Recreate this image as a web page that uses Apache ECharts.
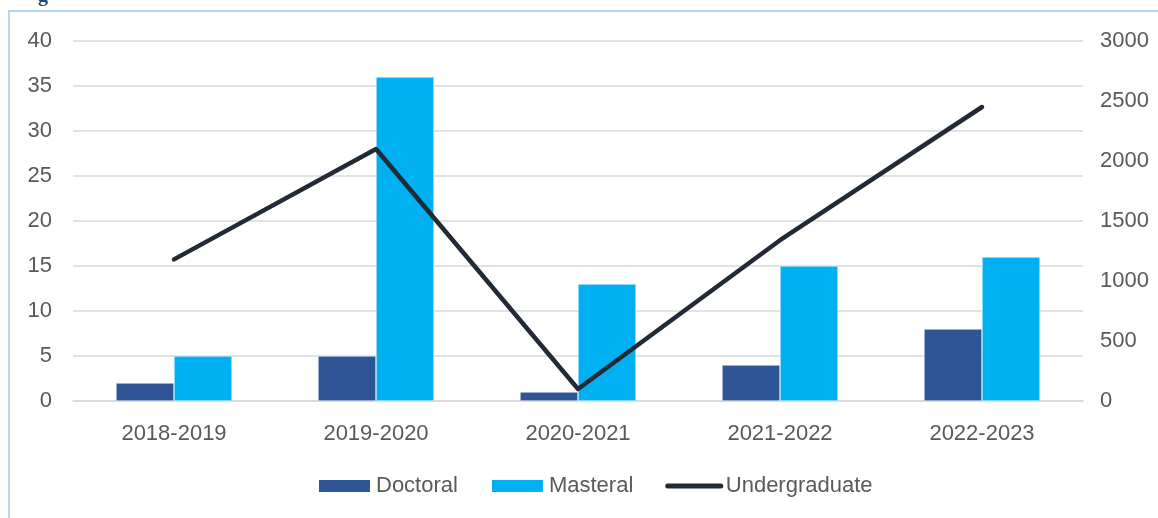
<!DOCTYPE html>
<html>
<head>
<meta charset="utf-8">
<script src="https://cdn.jsdelivr.net/npm/echarts@6/dist/echarts.min.js"></script>
<style>html,body{margin:0;padding:0;background:#fff;}#c{width:1158px;height:518px;}</style>
</head>
<body>
<div id="c"></div>
<script>
const categories = ['2018-2019', '2019-2020', '2020-2021', '2021-2022', '2022-2023'];
const doctoral = [2, 5, 1, 4, 8];
const masteral = [5, 36, 13, 15, 16];
const undergraduate = [1180, 2100, 100, 1340, 2450];
const leftTicks = {min: 0, max: 40, interval: 5};
const rightTicks = {min: 0, max: 3000, interval: 500};

const font = '"Liberation Sans", Arial, sans-serif';
const chart = echarts.init(document.getElementById('c'), null, {renderer: 'canvas'});
chart.setOption({
  animation: false,
  backgroundColor: '#fff',
  graphic: [
    {type: 'rect', shape: {x: 9, y: 11, width: 1200, height: 600}, style: {fill: 'none', stroke: '#B4D3F0', lineWidth: 2}, silent: true},
    {type: 'text', x: 38, y: -14, style: {text: 'g', font: 'bold 20px "Liberation Serif", serif', fill: '#1F4E79'}, silent: true}
  ],
  grid: {left: 73, right: 75, top: 41, bottom: 117},
  legend: {
    top: 470, left: 312,
    itemWidth: 53, itemHeight: 14, itemGap: 32,
    textStyle: {color: '#595959', fontSize: 22, fontFamily: font},
    data: [
      {name: 'Doctoral', icon: 'rect'},
      {name: 'Masteral', icon: 'rect'},
      {name: 'Undergraduate', itemStyle: {opacity: 0}, lineStyle: {width: 5, cap: 'round', color: '#222A35'}}
    ]
  },
  xAxis: {
    type: 'category', data: categories,
    axisLine: {lineStyle: {color: '#D9D9D9', width: 1.5}},
    axisTick: {show: false},
    axisLabel: {color: '#595959', fontSize: 22, fontFamily: font, margin: 22}
  },
  yAxis: [
    {type: 'value', min: leftTicks.min, max: leftTicks.max, interval: leftTicks.interval,
      axisLabel: {color: '#595959', fontSize: 22, fontFamily: font, margin: 21},
      splitLine: {lineStyle: {color: '#D9D9D9', width: 1.5}},
      axisLine: {show: false}, axisTick: {show: false}},
    {type: 'value', min: rightTicks.min, max: rightTicks.max, interval: rightTicks.interval,
      position: 'right',
      axisLabel: {color: '#595959', fontSize: 22, fontFamily: font, margin: 17, formatter: v => String(v)},
      splitLine: {show: false}, axisLine: {show: false}, axisTick: {show: false}}
  ],
  series: [
    {name: 'Doctoral', type: 'bar', data: doctoral, barWidth: 58, barGap: '0%',
      itemStyle: {color: '#2F5597', borderColor: '#fff', borderWidth: 0.5}},
    {name: 'Masteral', type: 'bar', data: masteral, barWidth: 58, barGap: '0%',
      itemStyle: {color: '#00B0F0', borderColor: '#fff', borderWidth: 0.5}},
    {name: 'Undergraduate', type: 'line', yAxisIndex: 1, data: undergraduate,
      symbol: 'none', showSymbol: false,
      lineStyle: {color: '#222A35', width: 4.5, cap: 'round', join: 'round'},
      itemStyle: {color: '#222A35'}, z: 5}
  ]
});
</script>
</body>
</html>
